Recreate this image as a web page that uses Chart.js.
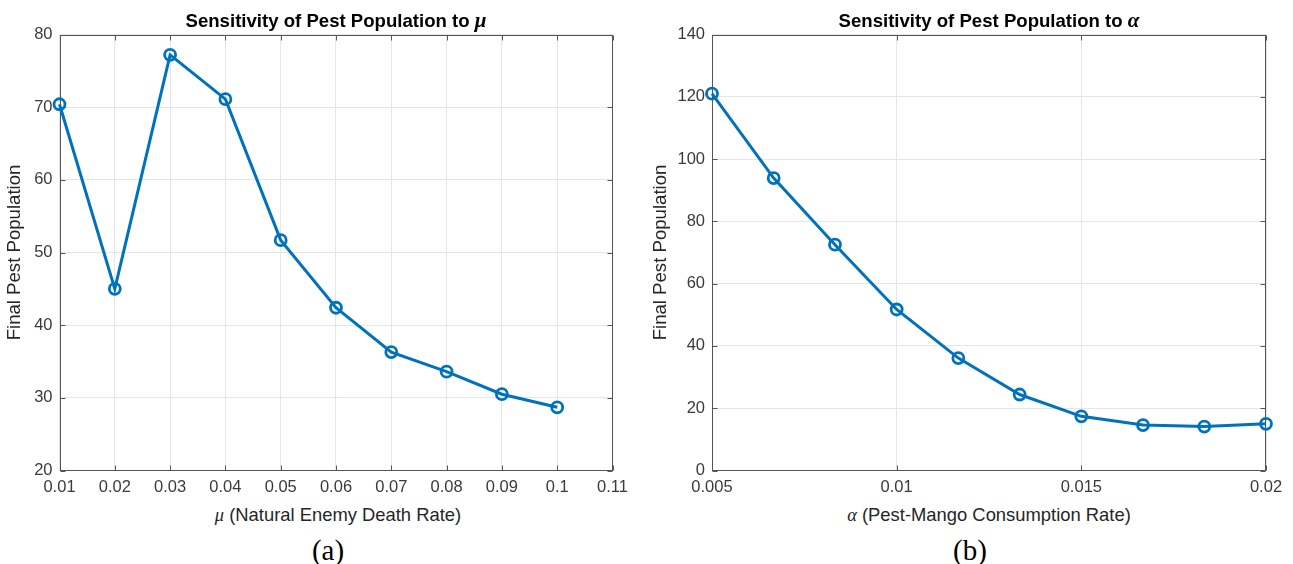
<!DOCTYPE html>
<html>
<head>
<meta charset="utf-8">
<script src="https://cdn.jsdelivr.net/npm/chart.js@4"></script>
<style>
  body { margin: 0; background: #fff; }
  #page { position: relative; width: 1293px; height: 564px; overflow: hidden; font-family: "Liberation Sans", Arial, sans-serif; }
  .box { position: absolute; top: 0; height: 500px; }
  .lbl { position: absolute; transform: translate(-50%, -50%); white-space: nowrap; line-height: 1; color: #262626; }
  .ttl { font-weight: bold; font-size: 18.6px; color: #000; }
  .xt { font-size: 18.4px; }
  .cap { font-family: "Liberation Serif", "DejaVu Serif", serif; font-size: 29px; color: #000; }
  .m { font-family: "Liberation Serif", "DejaVu Serif", serif; font-style: italic; }
</style>
</head>
<body>
<div id="page">
  <div class="box" style="left:0;width:646px"><canvas id="chartMu"></canvas></div>
  <div class="box" style="left:646px;width:647px"><canvas id="chartAlpha"></canvas></div>
  <div class="lbl ttl" style="left:336px;top:20px">Sensitivity of Pest Population to <span class="m" style="font-size:21px">μ</span></div>
  <div class="lbl ttl" style="left:989px;top:20px">Sensitivity of Pest Population to <span class="m" style="font-size:21px">α</span></div>
  <div class="lbl xt" style="left:338px;top:515px"><span class="m">μ</span> (Natural Enemy Death Rate)</div>
  <div class="lbl xt" style="left:989px;top:515px"><span class="m">α</span> (Pest-Mango Consumption Rate)</div>
  <div class="lbl cap" style="left:328px;top:550px">(a)</div>
  <div class="lbl cap" style="left:970px;top:550px">(b)</div>
</div>
<script>
// panel (a): death rate of natural enemy
const muRates = [0.01, 0.02, 0.03, 0.04, 0.05, 0.06, 0.07, 0.08, 0.09, 0.10];
const pestByMu = [70.4, 45.0, 77.2, 71.1, 51.7, 42.4, 36.3, 33.6, 30.5, 28.7];
const muTicks = [0.01, 0.02, 0.03, 0.04, 0.05, 0.06, 0.07, 0.08, 0.09, 0.10, 0.11];
const pestTicksA = [20, 30, 40, 50, 60, 70, 80];

// panel (b): pest-mango consumption rate
const alphaRates = [0.005, 0.00667, 0.00833, 0.01, 0.01167, 0.01333, 0.015, 0.01667, 0.01833, 0.02];
const pestByAlpha = [121.0, 93.9, 72.5, 51.7, 36.1, 24.4, 17.4, 14.6, 14.1, 15.0];
const alphaTicks = [0.005, 0.01, 0.015, 0.02];
const pestTicksB = [0, 20, 40, 60, 80, 100, 120, 140];

Chart.defaults.font.family = '"Liberation Sans", Arial, sans-serif';
Chart.defaults.color = '#3a3a3a';

const frame = {
  id: 'frame',
  beforeDatasetsDraw(chart) {
    const { ctx, chartArea: a, scales: { x, y } } = chart;
    const L = Math.round(a.left) + 0.5, R = Math.round(a.right) - 0.5;
    const T = Math.round(a.top) + 0.5, B = Math.round(a.bottom) - 0.5;
    ctx.save();
    ctx.strokeStyle = '#555';
    ctx.lineWidth = 1;
    ctx.strokeRect(L, T, R - L, B - T);
    ctx.beginPath();
    x.ticks.forEach(t => {
      const p = Math.round(x.getPixelForValue(t.value)) + 0.5;
      ctx.moveTo(p, B); ctx.lineTo(p, B - 5);
      ctx.moveTo(p, T); ctx.lineTo(p, T + 5);
    });
    y.ticks.forEach(t => {
      const p = Math.round(y.getPixelForValue(t.value)) + 0.5;
      ctx.moveTo(L, p); ctx.lineTo(L + 5, p);
      ctx.moveTo(R, p); ctx.lineTo(R - 5, p);
    });
    ctx.stroke();
    ctx.restore();
  }
};

function makeChart(id, xs, ys, xTicks, yTicks, yAxisWidth, rightPad) {
  const fmt = v => String(parseFloat(v.toFixed(4)));
  return new Chart(document.getElementById(id), {
    type: 'line',
    data: {
      datasets: [{
        data: xs.map((x, i) => ({ x: x, y: ys[i] })),
        borderColor: '#0072BD',
        borderWidth: 3,
        pointRadius: 5.5,
        pointBorderWidth: 2.8,
        pointBackgroundColor: 'rgba(0,0,0,0)',
        pointBorderColor: '#0072BD',
        tension: 0,
        clip: false
      }]
    },
    options: {
      responsive: true,
      maintainAspectRatio: false,
      animation: false,
      events: [],
      layout: { padding: { top: 34.5, right: rightPad, left: 0, bottom: 0 } },
      plugins: { legend: { display: false }, tooltip: { enabled: false } },
      scales: {
        x: {
          type: 'linear',
          min: xTicks[0],
          max: xTicks[xTicks.length - 1],
          afterBuildTicks: s => { s.ticks = xTicks.map(v => ({ value: v })); },
          afterFit: s => { s.height = 29.5; },
          grid: { color: '#e6e6e6', drawTicks: false },
          border: { display: false },
          ticks: { font: { size: 16.5 }, padding: 7, maxRotation: 0, autoSkip: false, callback: fmt }
        },
        y: {
          min: yTicks[0],
          max: yTicks[yTicks.length - 1],
          afterBuildTicks: s => { s.ticks = yTicks.map(v => ({ value: v })); },
          afterFit: s => { s.width = yAxisWidth; },
          grid: { color: '#e6e6e6', drawTicks: false },
          border: { display: false },
          ticks: { font: { size: 16.5 }, padding: 7, autoSkip: false },
          title: { display: true, text: 'Final Pest Population', font: { size: 18.6 }, color: '#262626', padding: { top: 4, bottom: 0 } }
        }
      }
    },
    plugins: [frame]
  });
}

makeChart('chartMu', muRates, pestByMu, muTicks, pestTicksA, 59.5, 33.5);
makeChart('chartAlpha', alphaRates, pestByAlpha, alphaTicks, pestTicksB, 66, 27);
</script>
</body>
</html>
